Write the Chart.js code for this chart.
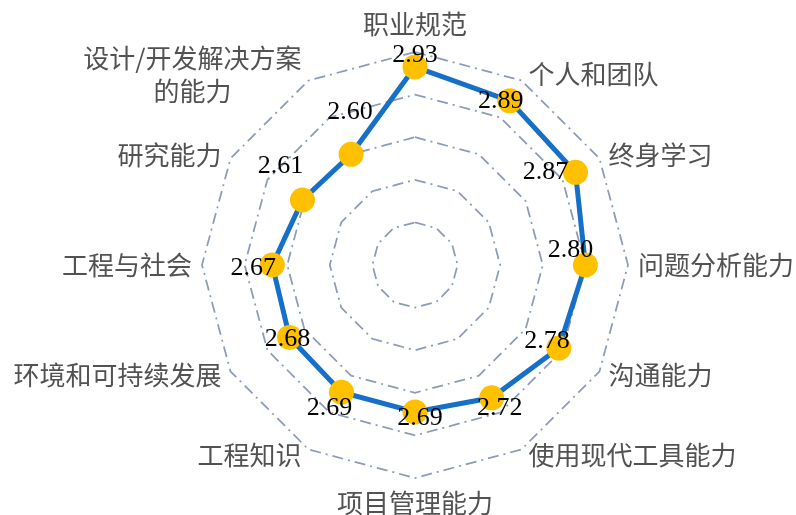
<!DOCTYPE html>
<html>
<head>
<meta charset="utf-8">
<script src="https://cdn.jsdelivr.net/npm/chart.js@4/dist/chart.umd.min.js"></script>
<style>
  html, body { margin: 0; padding: 0; background: #ffffff; }
  #wrap { width: 796px; height: 515px; position: relative; }
</style>
</head>
<body>
<div id="wrap"><canvas id="c"></canvas></div>
<script>
// ---- data ----
const categories = [
  '职业规范', '个人和团队', '终身学习', '问题分析能力', '沟通能力', '使用现代工具能力',
  '项目管理能力', '工程知识', '环境和可持续发展', '工程与社会', '研究能力', ['设计/开发解决方案', '的能力']
];
const values = [2.93, 2.89, 2.87, 2.80, 2.78, 2.72, 2.69, 2.69, 2.68, 2.67, 2.61, 2.60];
const scaleMin = 2.0;
const scaleMax = 3.0;
const scaleStep = 0.2;

// label offsets (dx, dy) of each value label relative to its marker
const valueLabelOffsets = [
  [0, -12], [-9, 0], [-30, 0], [-15, -15], [-12, -7], [8, 10],
  [5, 6], [-12, 16], [-2, 2], [-19, 3], [-22, -34], [-1, -42]
];

const labelPlugin = {
  id: 'customLabels',
  afterDatasetsDraw(chart) {
    const ctx = chart.ctx;
    const meta = chart.getDatasetMeta(0);
    ctx.save();
    ctx.font = '26px "Liberation Serif", "Times New Roman", serif';
    ctx.fillStyle = '#000000';
    ctx.textAlign = 'center';
    ctx.textBaseline = 'middle';
    meta.data.forEach((pt, i) => {
      const off = valueLabelOffsets[i] || [0, 0];
      ctx.fillText(values[i].toFixed(2), pt.x + off[0], pt.y + off[1]);
    });
    ctx.restore();

    // category labels around the outer ring
    const scale = chart.scales.r;
    ctx.save();
    ctx.font = '26px "Noto Sans CJK SC", sans-serif';
    ctx.fillStyle = '#525252';
    ctx.textBaseline = 'middle';
    const n = categories.length;
    const lineH = 33;
    categories.forEach((lab, i) => {
      const v = scale.getPointPosition(i, scale.drawingArea);
      const theta = i * 2 * Math.PI / n;
      const s = Math.sin(theta), c = Math.cos(theta);
      const lines = Array.isArray(lab) ? lab : [lab];
      let x, y, align;
      if (Math.abs(s) < 1e-6) {
        align = 'center';
        x = v.x;
        y = c > 0 ? v.y - 28 : v.y + 25;
      } else {
        const gap = 6 + 4 * s * s;
        y = v.y - 7 * c;
        if (s > 0) { align = 'left'; x = v.x + gap; }
        else { align = 'right'; x = v.x - gap; }
      }
      const widths = lines.map(l => ctx.measureText(l).width);
      const blockW = Math.max(...widths);
      let cx;
      if (align === 'center') cx = x;
      else if (align === 'left') cx = x + blockW / 2;
      else cx = x - blockW / 2;
      ctx.textAlign = 'center';
      const y0 = y - (lines.length - 1) * lineH / 2;
      lines.forEach((l, k) => ctx.fillText(l, cx, y0 + k * lineH));
    });
    ctx.restore();
  }
};

new Chart(document.getElementById('c'), {
  type: 'radar',
  data: {
    labels: categories,
    datasets: [{
      data: values,
      borderColor: '#1670C8',
      borderWidth: 5,
      backgroundColor: 'rgba(0,0,0,0)',
      fill: false,
      pointRadius: 12.5,
      pointHoverRadius: 12.5,
      pointBackgroundColor: '#FFC000',
      pointBorderWidth: 0,
      pointBorderColor: '#FFC000',
      tension: 0
    }]
  },
  options: {
    responsive: true,
    maintainAspectRatio: false,
    animation: false,
    events: [],
    layout: { padding: { left: 202, right: 168, top: 52, bottom: 37 } },
    plugins: { legend: { display: false }, tooltip: { enabled: false } },
    scales: {
      r: {
        min: scaleMin,
        max: scaleMax,
        ticks: { display: false, stepSize: scaleStep },
        angleLines: { display: false },
        pointLabels: { display: false },
        grid: { color: '#8C9BB8', lineWidth: 1.75, borderDash: [11, 5, 2, 5] },
        border: { dash: [11, 5, 2, 5] }
      }
    }
  },
  plugins: [labelPlugin]
});
</script>
</body>
</html>
